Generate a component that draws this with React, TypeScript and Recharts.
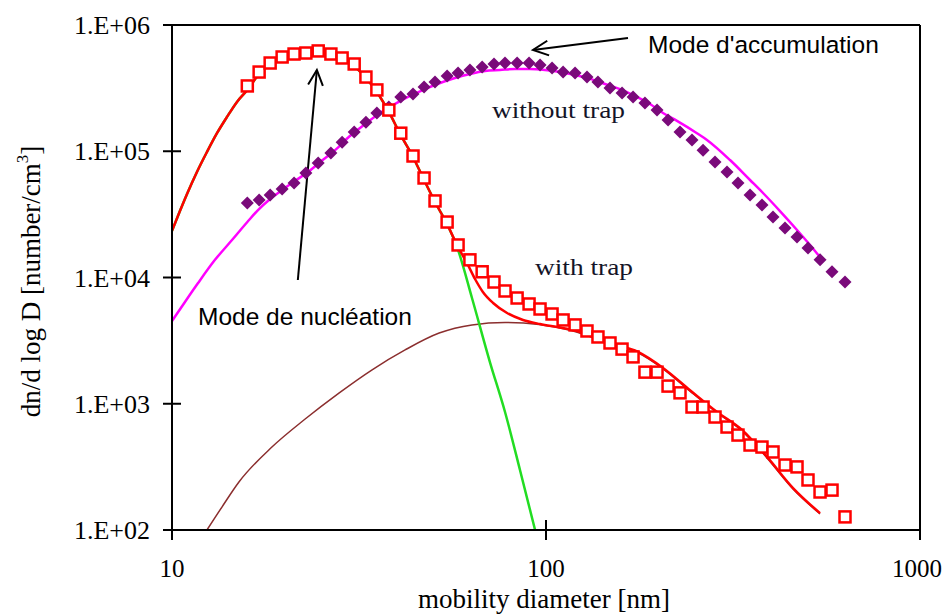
import React from 'react';
import {
  ComposedChart,
  Line,
  Scatter,
  XAxis,
  YAxis,
  ReferenceLine,
  Label
} from 'recharts';

// SMPS channels [nm], shared by both measured series
const channels = [15.9, 17.1, 18.3, 19.7, 21.2, 22.8, 24.6, 26.6, 28.5, 30.7, 33.0, 35.3, 38.0, 40.9, 44.1, 47.2, 50.5, 54.4, 58.2, 62.6, 67.5, 72.6, 77.7, 83.7, 90.1, 96.4, 103.8, 111.1, 119.6, 128.7, 137.7, 148.3, 159.7, 170.9, 183.9, 198.1, 212.0, 228.2, 245.7, 263.0, 283.1, 304.8, 326.1, 351.2, 378.0, 404.6, 435.6, 469.0, 501.8, 540.4, 581.8, 630.2];

// measured, with trap (red squares)
const withTrap = [3.29e5, 4.24e5, 5.0e5, 5.58e5, 5.89e5, 6.0e5, 6.23e5, 5.89e5, 5.48e5, 4.91e5, 3.87e5, 3.06e5, 2.12e5, 1.39e5, 9.17e4, 6.14e4, 4.04e4, 2.75e4, 1.81e4, 1.38e4, 1.11e4, 9.21e3, 7.82e3, 6.88e3, 6.17e3, 5.63e3, 5.14e3, 4.61e3, 4.21e3, 3.77e3, 3.38e3, 3.03e3, 2.71e3, 2.35e3, 1.78e3, 1.78e3, 1.38e3, 1.22e3, 942, 942, 785, 654, 565, 471, 454, 415, 327, 316, 249, 200, 207, 127];

// measured, without trap (purple diamonds)
const withoutTrap = [3.89e4, 4.11e4, 4.5e4, 5.02e4, 5.6e4, 6.73e4, 8.07e4, 9.69e4, 1.18e5, 1.42e5, 1.7e5, 2.01e5, 2.24e5, 2.69e5, 2.84e5, 3.23e5, 3.54e5, 3.94e5, 4.17e5, 4.4e5, 4.65e5, 4.91e5, 5.0e5, 5.0e5, 5.0e5, 4.82e5, 4.56e5, 4.24e5, 4.17e5, 3.87e5, 3.54e5, 3.17e5, 2.89e5, 2.69e5, 2.41e5, 2.12e5, 1.77e5, 1.42e5, 1.23e5, 1.02e5, 8.22e4, 6.85e4, 5.6e4, 4.5e4, 3.75e4, 3.01e4, 2.47e4, 2.09e4, 1.71e4, 1.38e4, 1.11e4, 9.21e3];

// fit, with trap (red line)
const fitTrapD = [10.0, 10.5, 10.97, 11.66, 12.4, 13.19, 14.03, 14.92, 15.9, 17.1, 18.3, 19.7, 21.2, 22.8, 24.6, 26.6, 28.5, 30.7, 33.0, 35.3, 38.0, 40.9, 44.1, 47.2, 50.5, 54.4, 58.2, 61.5, 64.6, 67.8, 72.2, 78.7, 86.8, 96.4, 107.0, 118.1, 131.1, 148.3, 176.2, 205.5, 242.7, 286.7, 334.3, 389.9, 457.6, 540.4];
const fitTrapN = [2.34e4, 3.36e4, 4.59e4, 6.85e4, 9.86e4, 1.39e5, 1.87e5, 2.46e5, 3.06e5, 4.09e5, 4.91e5, 5.48e5, 5.79e5, 6.0e5, 6.11e5, 5.89e5, 5.38e5, 4.73e5, 3.8e5, 2.95e5, 2.05e5, 1.34e5, 9.01e4, 5.92e4, 3.96e4, 2.65e4, 1.74e4, 1.3e4, 9.73e3, 7.68e3, 6.28e3, 5.23e3, 4.61e3, 4.28e3, 4.05e3, 3.84e3, 3.5e3, 3.03e3, 2.57e3, 1.92e3, 1.28e3, 860, 620, 379, 215, 136];

// nucleation mode alone (green line)
const nuclD = [10.0, 10.5, 10.97, 11.66, 12.4, 13.19, 14.03, 14.92, 15.9, 17.1, 18.3, 19.7, 21.2, 22.8, 24.6, 26.6, 28.5, 30.7, 33.0, 35.3, 38.0, 40.9, 44.1, 47.2, 50.5, 54.4, 58.2, 63.4, 70.8, 77.7, 85.2, 93.5];
const nuclN = [2.34e4, 3.36e4, 4.59e4, 6.85e4, 9.86e4, 1.39e5, 1.87e5, 2.46e5, 3.06e5, 4.09e5, 4.91e5, 5.48e5, 5.79e5, 6.0e5, 6.11e5, 5.89e5, 5.38e5, 4.73e5, 3.8e5, 2.95e5, 2.05e5, 1.34e5, 9.01e4, 5.92e4, 3.96e4, 2.65e4, 1.65e4, 6.88e3, 2.14e3, 860, 299, 100];

// accumulation mode with trap (brown line)
const accD = [12.4, 13.6, 15.1, 18.5, 22.7, 28.0, 34.2, 42.0, 51.8, 63.4, 77.7, 95.8, 118.1, 148.3, 176.2, 205.5, 242.7, 286.7, 334.3, 389.9, 457.6, 540.4];
const accN = [100, 152, 240, 454, 757, 1.22e3, 1.85e3, 2.67e3, 3.63e3, 4.21e3, 4.4e3, 4.25e3, 3.77e3, 2.98e3, 2.53e3, 1.89e3, 1.26e3, 850, 610, 372, 211, 134];

// fit, without trap (magenta line)
const fitFreeD = [10.0, 10.83, 11.74, 13.03, 14.47, 15.9, 16.98, 18.3, 19.7, 21.3, 23.1, 24.9, 27.3, 29.9, 32.8, 36.0, 39.5, 43.3, 47.5, 52.1, 57.1, 62.6, 68.7, 75.3, 82.6, 90.6, 99.4, 109.0, 119.6, 131.1, 143.8, 157.7, 173.0, 189.7, 205.5, 224.0, 253.3, 269.4, 310.5, 351.2, 380.4, 422.3, 469.0, 508.0, 540.4];
const fitFreeN = [4.52e3, 6.4e3, 9.04e3, 1.38e4, 1.98e4, 2.75e4, 3.42e4, 4.19e4, 4.93e4, 5.81e4, 6.85e4, 8.22e4, 1.02e5, 1.32e5, 1.64e5, 2.01e5, 2.37e5, 2.74e5, 3.11e5, 3.47e5, 3.8e5, 4.09e5, 4.32e5, 4.4e5, 4.48e5, 4.48e5, 4.4e5, 4.24e5, 4.02e5, 3.74e5, 3.41e5, 3.11e5, 2.74e5, 2.37e5, 2.01e5, 1.74e5, 1.39e5, 1.23e5, 8.52e4, 5.92e4, 4.67e4, 3.36e4, 2.38e4, 1.81e4, 1.45e4];

const xTicks = [10, 100, 1000];
const yTicks = [1e2, 1e3, 1e4, 1e5, 1e6];

const SERIF = "'Liberation Serif', 'Times New Roman', serif";
const SANS = "'Liberation Sans', Arial, sans-serif";

const pairs = (d: number[], n: number[]) => d.map((v, i) => ({ d: v, n: n[i] }));

const fmtExp = (v: number) => `1.E+0${Math.round(Math.log10(v))}`;

const YTick = ({ x, y, payload }: any) => (
  <g>
    <line x1={x - 9} x2={x + 9} y1={y} y2={y} stroke="#000" strokeWidth={2} />
    <text x={x - 22} y={y + 9} textAnchor="end" fontFamily={SERIF} fontSize={26} fill="#000">
      {fmtExp(payload.value)}
    </text>
  </g>
);

const XTick = ({ x, y, payload }: any) => (
  <g>
    <line x1={x} x2={x} y1={y - 10} y2={y + 10} stroke="#000" strokeWidth={2} />
    <text
      x={payload.value === 1000 ? x - 3 : x}
      y={y + 47}
      textAnchor="middle"
      fontFamily={SERIF}
      fontSize={25}
      fill="#000"
    >
      {payload.value}
    </text>
  </g>
);

const HollowSquare = ({ cx, cy }: any) => (
  <rect x={cx - 5.5} y={cy - 5.5} width={11} height={11} fill="#fff" stroke="#ff0000" strokeWidth={2.5} />
);

const Diamond = ({ cx, cy }: any) => (
  <polygon
    points={`${cx},${cy - 6.5} ${cx + 6.5},${cy} ${cx},${cy + 6.5} ${cx - 6.5},${cy}`}
    fill="#7a0a7a"
  />
);

const Arrow = ({ x1, y1, x2, y2 }: any) => {
  const a = Math.atan2(y2 - y1, x2 - x1);
  const len = 17;
  const spread = 0.45;
  const p1 = `${x2 - len * Math.cos(a - spread)},${y2 - len * Math.sin(a - spread)}`;
  const p2 = `${x2 - len * Math.cos(a + spread)},${y2 - len * Math.sin(a + spread)}`;
  return (
    <g>
      <line x1={x1} y1={y1} x2={x2} y2={y2} stroke="#000" strokeWidth={2} />
      <polyline points={`${p1} ${x2},${y2} ${p2}`} fill="none" stroke="#000" strokeWidth={2} />
    </g>
  );
};

const YTitle = ({ viewBox }: any) => {
  const cx = viewBox.x + 40;
  const cy = viewBox.y + viewBox.height / 2 + 4;
  return (
    <text
      x={cx}
      y={cy}
      transform={`rotate(-90 ${cx} ${cy})`}
      textAnchor="middle"
      fontFamily={SERIF}
      fontSize={27}
      fill="#000"
    >
      dn/d log D [number/cm<tspan dy={-12} fontSize={17}>3</tspan>
      <tspan dy={12}>]</tspan>
    </text>
  );
};

const XTitle = ({ viewBox }: any) => (
  <text
    x={viewBox.x + viewBox.width / 2 - 2}
    y={viewBox.y + 78}
    textAnchor="middle"
    fontFamily={SERIF}
    fontSize={27}
    fill="#000"
  >
    mobility diameter [nm]
  </text>
);

export default function App() {
  const squares = pairs(channels, withTrap);
  const diamonds = pairs(channels, withoutTrap);

  return (
    <div style={{ position: 'absolute', left: 0, top: 0, width: 944, height: 615, background: '#fff' }}>
      <ComposedChart width={944} height={615} margin={{ top: 25, right: 24, bottom: 25, left: 0 }}>
        <XAxis
          type="number"
          dataKey="d"
          scale="log"
          domain={[10, 1000]}
          ticks={xTicks}
          allowDataOverflow
          height={60}
          tickSize={0}
          tickMargin={0}
          tick={<XTick />}
          axisLine={{ stroke: '#000', strokeWidth: 2 }}
        >
          <Label content={<XTitle />} />
        </XAxis>
        <YAxis
          type="number"
          dataKey="n"
          scale="log"
          domain={[100, 1e6]}
          ticks={yTicks}
          allowDataOverflow
          width={172}
          tickSize={0}
          tickMargin={0}
          tick={<YTick />}
          axisLine={{ stroke: '#000', strokeWidth: 2 }}
        >
          <Label content={<YTitle />} />
        </YAxis>
        <ReferenceLine y={1e6} stroke="#000" strokeWidth={2} ifOverflow="visible" />
        <ReferenceLine x={1000} stroke="#000" strokeWidth={2} ifOverflow="visible" />

        <Line data={pairs(accD, accN)} dataKey="n" type="monotone" stroke="#8b2e2e" strokeWidth={1.5} dot={false} isAnimationActive={false} />
        <Line data={pairs(nuclD, nuclN)} dataKey="n" type="monotone" stroke="#22dd22" strokeWidth={2.5} dot={false} isAnimationActive={false} />
        <Line data={pairs(fitFreeD, fitFreeN)} dataKey="n" type="monotone" stroke="#ff00ff" strokeWidth={2.5} dot={false} isAnimationActive={false} />
        <Line data={pairs(fitTrapD, fitTrapN)} dataKey="n" type="monotone" stroke="#ff0000" strokeWidth={2.5} dot={false} isAnimationActive={false} />
        <Scatter data={diamonds} shape={<Diamond />} isAnimationActive={false} />
        <Scatter data={squares} shape={<HollowSquare />} isAnimationActive={false} />

        <ReferenceLine segment={[{ x: 165.7, y: 7.89e5 }, { x: 92.3, y: 6.34e5 }]} ifOverflow="visible" shape={Arrow} />
        <ReferenceLine segment={[{ x: 21.7, y: 9.55e3 }, { x: 24.4, y: 4.4e5 }]} ifOverflow="visible" shape={Arrow} />
      </ComposedChart>

      <svg width={944} height={615} style={{ position: 'absolute', left: 0, top: 0, pointerEvents: 'none' }}>
        <text x={648} y={53} fontFamily={SANS} fontSize={24.5} fill="#000">Mode d'accumulation</text>
        <text x={198} y={325} fontFamily={SANS} fontSize={24.5} fill="#000">Mode de nucléation</text>
        <text x={492} y={118} fontFamily={SERIF} fontSize={23} fill="#141428" textLength={133} lengthAdjust="spacingAndGlyphs">without trap</text>
        <text x={535} y={275} fontFamily={SERIF} fontSize={23} fill="#141428" textLength={98} lengthAdjust="spacingAndGlyphs">with trap</text>
      </svg>
    </div>
  );
}
